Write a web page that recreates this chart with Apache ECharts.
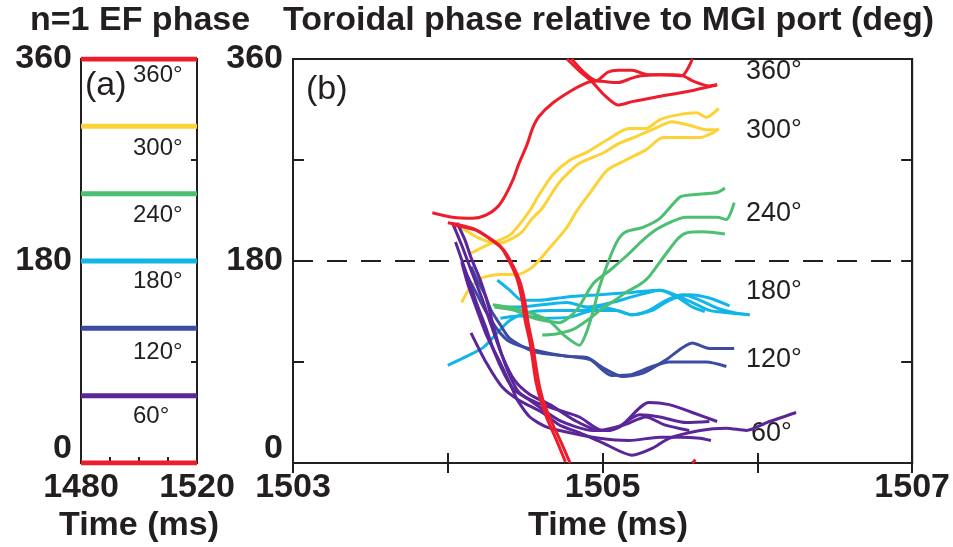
<!DOCTYPE html>
<html><head><meta charset="utf-8">
<script src="https://cdn.jsdelivr.net/npm/echarts@6/dist/echarts.min.js"></script>
<style>html,body{margin:0;padding:0;background:#fff}#c{width:953px;height:547px}</style>
</head><body><div id="c"></div>
<script>
// ---------- data ----------
const xTickLabelsA = [1480, 1520];
const xTickLabelsB = [1503, 1505, 1507];
const yTickLabels = [0, 180, 360];
const efPhases = [360, 300, 240, 180, 120, 60, 0];
const efColorsKey = ['red', 'yellow', 'green', 'cyan', 'blue', 'purple', 'red'];
const efTime = [1480, 1520];
const degLabels = ['360°', '300°', '240°', '180°', '120°', '60°'];
const refPhase = 180;

// panel (b) curves: [time ms, phase deg]
const redRise = [[1503.90,223],[1504.03,219],[1504.16,218],[1504.25,221],[1504.32,228],[1504.37,238],[1504.42,252],[1504.46,267],[1504.51,283],[1504.55,299],[1504.59,309],[1504.68,321],[1504.80,332],[1504.90,339],[1504.97,341],[1505.03,348],[1505.10,350],[1505.19,350],[1505.29,346],[1505.45,346],[1505.52,345],[1505.59,340],[1505.69,336],[1505.74,337]];
const redDropA = [[1504.00,214],[1504.08,212],[1504.16,209],[1504.25,202],[1504.34,193],[1504.40,179],[1504.45,163],[1504.48,145],[1504.50,127],[1504.53,108],[1504.55,90],[1504.57,72],[1504.60,56],[1504.64,40],[1504.70,21],[1504.76,1]];
const redTopA = [[1504.77,360],[1504.86,348],[1504.93,340],[1505.01,328],[1505.10,319],[1505.19,322],[1505.34,326],[1505.55,331],[1505.68,335],[1505.74,337]];
const redDropB = [[1504.03,212],[1504.11,210],[1504.19,207],[1504.28,199],[1504.36,190],[1504.42,176],[1504.47,160],[1504.50,142],[1504.52,124],[1504.55,104],[1504.57,86],[1504.59,70],[1504.62,54],[1504.67,37],[1504.73,19],[1504.79,0]];
const redTopB = [[1504.80,360],[1504.88,348],[1504.95,341],[1505.01,340],[1505.10,339],[1505.19,343],[1505.25,345],[1505.38,346],[1505.51,345],[1505.58,360]];
const redTail = [[1505.58,0],[1505.60,3]];

const yellow1 = [[1504.06,212],[1504.12,207],[1504.19,201],[1504.27,197],[1504.34,196],[1504.40,199],[1504.48,206],[1504.54,217],[1504.61,227],[1504.72,250],[1504.85,267],[1505.00,276],[1505.11,285],[1505.22,291],[1505.32,297],[1505.45,304],[1505.56,301],[1505.67,297],[1505.75,297]];
const yellow2 = [[1504.15,187],[1504.25,194],[1504.34,199],[1504.40,203],[1504.46,212],[1504.53,225],[1504.59,239],[1504.68,257],[1504.79,270],[1504.90,277],[1505.03,288],[1505.17,298],[1505.28,298],[1505.37,306],[1505.48,310],[1505.61,312],[1505.67,308],[1505.75,316]];
const yellow3 = [[1504.09,143],[1504.12,151],[1504.15,157],[1504.22,165],[1504.34,168],[1504.45,168],[1504.55,175],[1504.66,192],[1504.77,210],[1504.83,224],[1504.92,241],[1505.03,261],[1505.15,270],[1505.28,279],[1505.39,290],[1505.50,290],[1505.63,290],[1505.71,294],[1505.75,298]];

const green1 = [[1504.29,141],[1504.42,138],[1504.55,133],[1504.66,126],[1504.75,114],[1504.85,105],[1504.90,118],[1504.94,136],[1504.98,157],[1505.05,184],[1505.10,199],[1505.15,206],[1505.26,210],[1505.37,218],[1505.50,237],[1505.58,239],[1505.74,241],[1505.79,245]];
const green2 = [[1504.30,139],[1504.43,136],[1504.56,129],[1504.66,126],[1504.72,125],[1504.83,136],[1504.94,160],[1505.05,172],[1505.15,184],[1505.28,201],[1505.37,210],[1505.54,219],[1505.74,219],[1505.80,217],[1505.85,232]];
const green3 = [[1504.61,114],[1504.70,115],[1504.81,119],[1504.92,129],[1505.00,138],[1505.08,145],[1505.15,152],[1505.24,159],[1505.30,166],[1505.37,179],[1505.48,199],[1505.54,205],[1505.65,206],[1505.79,204]];

const cyan1 = [[1504.00,87],[1504.12,95],[1504.23,103],[1504.32,116],[1504.40,127],[1504.51,134],[1504.66,136],[1504.87,136],[1504.98,139],[1505.09,136],[1505.19,132],[1505.30,136],[1505.41,145],[1505.52,150],[1505.63,145],[1505.74,138],[1505.85,134],[1505.95,132]];
const cyan2 = [[1504.32,163],[1504.40,154],[1504.48,145],[1504.59,145],[1504.77,148],[1504.98,150],[1505.19,152],[1505.37,154],[1505.43,152],[1505.58,143],[1505.69,136],[1505.80,134],[1505.95,132]];
const cyan3 = [[1504.32,139],[1504.45,139],[1504.61,141],[1504.77,143],[1504.90,139],[1505.06,143],[1505.19,148],[1505.37,154],[1505.48,148],[1505.58,139],[1505.66,135]];
const cyan4 = [[1504.34,129],[1504.46,131],[1504.63,129],[1504.79,130],[1504.94,136],[1505.09,136],[1505.19,132],[1505.32,136],[1505.43,145],[1505.56,150],[1505.69,147],[1505.82,140]];

const blue1 = [[1504.10,174],[1504.14,163],[1504.19,150],[1504.25,134],[1504.32,119],[1504.40,108],[1504.55,101],[1504.77,95],[1504.90,94],[1505.00,85],[1505.13,77],[1505.26,80],[1505.41,92],[1505.58,107],[1505.69,102],[1505.85,102]];
const blue2 = [[1504.15,175],[1504.19,163],[1504.24,150],[1504.28,136],[1504.34,123],[1504.40,111],[1504.56,99],[1504.79,95],[1504.92,92],[1505.06,78],[1505.19,79],[1505.32,86],[1505.43,90],[1505.58,90],[1505.67,90],[1505.80,86]];

const purple1 = [[1504.06,214],[1504.11,199],[1504.15,183],[1504.21,163],[1504.26,141],[1504.30,119],[1504.35,96],[1504.40,78],[1504.46,63],[1504.57,54],[1504.72,47],[1504.85,41],[1505.00,29],[1505.11,32],[1505.30,54],[1505.43,52],[1505.58,45],[1505.74,37]];
const purple2 = [[1504.05,197],[1504.09,181],[1504.14,161],[1504.19,141],[1504.25,119],[1504.30,99],[1504.37,78],[1504.43,65],[1504.53,56],[1504.72,38],[1504.94,29],[1505.05,29],[1505.24,43],[1505.37,41],[1505.54,36],[1505.69,37]];
const purple3 = [[1504.15,116],[1504.25,89],[1504.35,68],[1504.46,56],[1504.61,45],[1504.72,34],[1504.85,27],[1505.00,18],[1505.19,7],[1505.32,13],[1505.43,22],[1505.63,29],[1505.80,31],[1505.93,29],[1506.06,36],[1506.25,45]];
const purple4 = [[1504.09,179],[1504.13,159],[1504.19,136],[1504.25,114],[1504.34,89],[1504.42,65],[1504.45,56],[1504.53,41],[1504.64,32],[1504.79,27],[1504.98,22],[1505.17,20],[1505.37,23],[1505.50,23],[1505.63,22],[1505.70,20]];
const purple5 = [[1504.03,214],[1504.09,194],[1504.15,172],[1504.22,147],[1504.28,123],[1504.35,96],[1504.43,74],[1504.53,61],[1504.66,52],[1504.82,38],[1504.98,29],[1505.14,34],[1505.28,41],[1505.40,34],[1505.56,29]];

// ---------- styling ----------
const COL = {red:'#ee1d2c', yellow:'#fdd236', green:'#4dbf73', cyan:'#12b5e8', blue:'#3c4ca2', purple:'#5a2699'};
const FONT = '"Liberation Sans", Arial, Helvetica, sans-serif';
const INK = '#231f20';

const chart = echarts.init(document.getElementById('c'), null, {renderer:'canvas'});

function ln(data, color, xi, yi, w, z) {
  return {type:'line', xAxisIndex:xi, yAxisIndex:yi, data, symbol:'none', smooth:0.25,
    lineStyle:{color, width:w}, z:z||2, silent:true, clip:true};
}
function labFmt(list) {
  return v => list.includes(v) ? (v === 0 ? '{z|0}' : String(v)) : '';
}
const labStyle = {fontSize:34, fontWeight:'bold', color:INK, fontFamily:FONT,
  rich:{z:{fontSize:34, fontWeight:'bold', color:INK, fontFamily:FONT, padding:[0,0,28,0]}}};
const axLine = {show:true, lineStyle:{color:INK, width:2}};

const series = [];
efPhases.forEach((p, i) => series.push(ln(efTime.map(t => [t, p]), COL[efColorsKey[i]], 0, 0, 5)));
series.push({type:'line', xAxisIndex:1, yAxisIndex:2, data:[[1503,refPhase],[1507,refPhase]], symbol:'none',
  lineStyle:{color:INK, width:2, type:[20,14]}, z:1, silent:true});
[cyan1,cyan2,cyan3,cyan4].forEach(d => series.push(ln(d, COL.cyan, 1, 2, 3)));
[green1,green2,green3].forEach(d => series.push(ln(d, COL.green, 1, 2, 3)));
[yellow1,yellow2,yellow3].forEach(d => series.push(ln(d, COL.yellow, 1, 2, 3)));
[blue1,blue2].forEach(d => series.push(ln(d, COL.blue, 1, 2, 3)));
[purple1,purple2,purple3,purple4,purple5].forEach(d => series.push(ln(d, COL.purple, 1, 2, 3)));
[redRise,redDropA,redTopA,redDropB,redTopB,redTail].forEach(d => series.push(ln(d, COL.red, 1, 2, 3, 3)));

const graphics = [
  {type:'text', x:30, y:21, style:{text:'n=1 EF phase', font:'bold 34px '+FONT, fill:INK, textVerticalAlign:'middle'}},
  {type:'text', x:283, y:21, style:{text:'Toroidal phase relative to MGI port (deg)', font:'bold 34px '+FONT, fill:INK, textVerticalAlign:'middle'}},
  {type:'text', x:139, y:526, style:{text:'Time (ms)', font:'bold 34px '+FONT, fill:INK, textAlign:'center', textVerticalAlign:'middle'}},
  {type:'text', x:608, y:526, style:{text:'Time (ms)', font:'bold 34px '+FONT, fill:INK, textAlign:'center', textVerticalAlign:'middle'}},
  {type:'text', x:85, y:86, style:{text:'(a)', font:'34px '+FONT, fill:INK, textVerticalAlign:'middle'}},
  {type:'text', x:306, y:90, style:{text:'(b)', font:'34px '+FONT, fill:INK, textVerticalAlign:'middle'}}
];
const aY = [75,148,215,281,352,416];
const bY = [72,131,214,292,360,434];
degLabels.forEach((t, i) => {
  graphics.push({type:'text', x:133, y:aY[i], style:{text:t, font:'24px '+FONT, fill:INK, textVerticalAlign:'middle'}});
  graphics.push({type:'text', x:i===5?751:746, y:bY[i], style:{text:t, font:'27px '+FONT, fill:INK, textVerticalAlign:'middle'}});
});

chart.setOption({
  animation:false,
  backgroundColor:'#fff',
  grid:[
    {left:81, top:59, width:116, height:404, show:true, borderColor:INK, borderWidth:2, backgroundColor:'transparent'},
    {left:293, top:59, width:620, height:404, show:true, borderColor:INK, borderWidth:2, backgroundColor:'transparent'}
  ],
  xAxis:[
    {gridIndex:0, type:'value', min:1480, max:1520, interval:10, position:'bottom', axisLine:axLine,
      axisTick:{inside:true, length:6, lineStyle:{color:INK, width:2}}, splitLine:{show:false},
      axisLabel:Object.assign({formatter:labFmt(xTickLabelsA), margin:8, showMinLabel:true, showMaxLabel:true}, labStyle)},
    {gridIndex:1, type:'value', min:1503, max:1507, interval:1, position:'bottom', axisLine:axLine,
      axisTick:{inside:true, length:10, lineStyle:{color:INK, width:2}}, splitLine:{show:false},
      axisLabel:Object.assign({formatter:labFmt(xTickLabelsB), margin:8, showMinLabel:true, showMaxLabel:true}, labStyle)},
    {gridIndex:1, type:'value', min:1503, max:1507, interval:1, position:'top', axisLine:axLine,
      axisTick:{inside:true, length:10, lineStyle:{color:INK, width:2}}, splitLine:{show:false}, axisLabel:{show:false}}
  ],
  yAxis:[
    {gridIndex:0, type:'value', min:0, max:360, interval:90, position:'left', axisLine:axLine,
      axisTick:{show:false}, splitLine:{show:false},
      axisLabel:Object.assign({formatter:labFmt(yTickLabels), margin:9, showMinLabel:true, showMaxLabel:true}, labStyle)},
    {gridIndex:0, type:'value', min:0, max:360, interval:90, position:'right', axisLine:axLine,
      axisTick:{inside:true, length:6, lineStyle:{color:INK, width:2}}, splitLine:{show:false}, axisLabel:{show:false}},
    {gridIndex:1, type:'value', min:0, max:360, interval:90, position:'left', axisLine:axLine,
      axisTick:{inside:true, length:11, lineStyle:{color:INK, width:2}}, splitLine:{show:false},
      axisLabel:Object.assign({formatter:labFmt(yTickLabels), margin:10, showMinLabel:true, showMaxLabel:true}, labStyle)},
    {gridIndex:1, type:'value', min:0, max:360, interval:90, position:'right', axisLine:axLine,
      axisTick:{inside:true, length:11, lineStyle:{color:INK, width:2}}, splitLine:{show:false}, axisLabel:{show:false}}
  ],
  series,
  graphic:graphics
});
</script></body></html>
